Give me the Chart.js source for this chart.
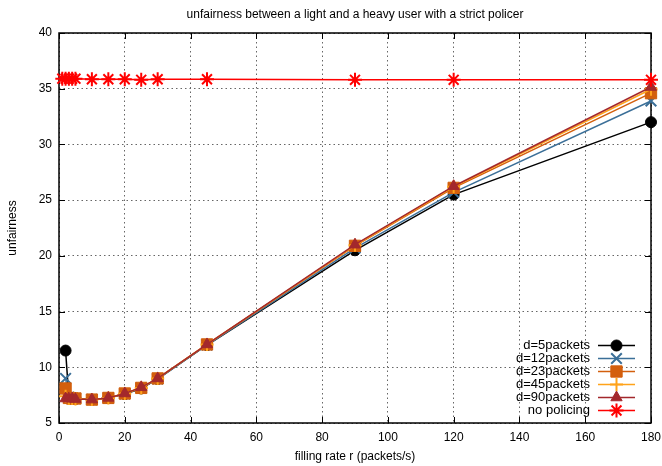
<!DOCTYPE html>
<html>
<head>
<meta charset="utf-8">
<script src="https://cdn.jsdelivr.net/npm/chart.js"></script>
<style>
  body { margin: 0; background: #fff; }
  canvas { display: block; }
</style>
</head>
<body>
<canvas id="chart" width="662" height="466"></canvas>
<script>
// Filling rates (packets/s)
const xPolicer = [2, 3, 4, 5, 10, 15, 20, 25, 30, 45, 90, 120, 180];
const xNoPolicing = [1, 2, 3, 4, 5, 10, 15, 20, 25, 30, 45, 90, 120, 180];

// Unfairness per bucket depth
const d5 = [11.5, 7.3, 7.2, 7.2, 7.1, 7.25, 7.6, 8.1, 8.95, 12.0, 20.5, 25.5, 32.0];
const d12 = [9.0, 7.3, 7.2, 7.2, 7.1, 7.25, 7.6, 8.15, 8.95, 12.0, 20.7, 25.7, 33.9];
const d23 = [8.1, 7.25, 7.2, 7.2, 7.1, 7.25, 7.65, 8.15, 9.0, 12.05, 20.9, 26.1, 34.6];
const d45 = [7.4, 7.2, 7.2, 7.15, 7.1, 7.25, 7.65, 8.15, 9.0, 12.05, 20.95, 26.2, 34.95];
const d90 = [7.2, 7.2, 7.2, 7.15, 7.1, 7.25, 7.65, 8.2, 9.0, 12.05, 21.0, 26.25, 35.15];
const noPolicing = [35.9, 35.9, 35.9, 35.9, 35.9, 35.85, 35.85, 35.85, 35.8, 35.85, 35.85, 35.8, 35.8, 35.8];

const seriesLabels = ['d=5packets', 'd=12packets', 'd=23packets', 'd=45packets', 'd=90packets', 'no policing'];
const xTicks = [0, 20, 40, 60, 80, 100, 120, 140, 160, 180];
const yTicks = [5, 10, 15, 20, 25, 30, 35, 40];

const FONT = "'Liberation Sans', Arial, Helvetica, sans-serif";

function toPoints(xs, ys) {
    return ys.map((y, i) => ({ x: xs[i], y: y }));
}

function makeSet(label, xs, ys, color, style, radius, width, order) {
    const filled = style === 'circle' || style === 'rect' || style === 'triangle';
    return {
        label: label,
        data: toPoints(xs, ys),
        borderColor: color,
        backgroundColor: color,
        borderWidth: 1.5,
        pointStyle: style,
        pointRadius: radius,
        pointBorderWidth: filled ? 1 : width,
        pointBackgroundColor: color,
        pointBorderColor: color,
        clip: false,
        order: order
    };
}

const datasets = [
    makeSet(seriesLabels[0], xPolicer, d5, '#000000', 'circle', 5.5, 1, 5),
    makeSet(seriesLabels[1], xPolicer, d12, '#3b6f98', 'crossRot', 7.5, 2, 4),
    makeSet(seriesLabels[2], xPolicer, d23, '#d35f0d', 'rect', 8, 1, 3),
    makeSet(seriesLabels[3], xPolicer, d45, '#ffa31a', 'cross', 6.5, 2, 2),
    makeSet(seriesLabels[4], xPolicer, d90, '#a3282c', 'triangle', 6.5, 1, 1),
    makeSet(seriesLabels[5], xNoPolicing, noPolicing, '#ff0000', 'star', 7, 2, 0)
];

// Title, frame with inward ticks, and gnuplot-style key
const gnuplotFrame = {
    id: 'gnuplotFrame',
    beforeDatasetsDraw(chart) {
        const { ctx, chartArea: a, scales } = chart;
        ctx.save();
        ctx.strokeStyle = '#000';
        ctx.lineWidth = 1;
        const tl = 6;
        ctx.beginPath();
        xTicks.forEach(v => {
            const px = Math.round(scales.x.getPixelForValue(v)) + 0.5;
            ctx.moveTo(px, a.bottom); ctx.lineTo(px, a.bottom - tl);
            ctx.moveTo(px, a.top); ctx.lineTo(px, a.top + tl);
        });
        yTicks.forEach(v => {
            const py = Math.round(scales.y.getPixelForValue(v)) + 0.5;
            ctx.moveTo(a.left, py); ctx.lineTo(a.left + tl, py);
            ctx.moveTo(a.right, py); ctx.lineTo(a.right - tl, py);
        });
        ctx.stroke();
        ctx.lineWidth = 1.5;
        ctx.strokeRect(a.left, a.top, a.right - a.left, a.bottom - a.top);
        ctx.restore();
    },
    afterDraw(chart) {
        const { ctx, chartArea: a } = chart;
        ctx.save();
        ctx.fillStyle = '#000';
        ctx.font = '12px ' + FONT;
        ctx.textAlign = 'center';
        ctx.textBaseline = 'middle';
        ctx.fillText('unfairness between a light and a heavy user with a strict policer', (a.left + a.right) / 2, 15);

        // key
        const textRight = a.right - 61;
        const lineL = a.right - 53;
        const lineR = a.right - 16;
        const mx = (lineL + lineR) / 2;
        const y0 = 345.5;
        const step = 13;
        ctx.font = '13px ' + FONT;
        ctx.textAlign = 'right';
        chart.data.datasets.forEach((ds, i) => {
            const y = y0 + i * step;
            ctx.fillStyle = '#000';
            ctx.fillText(ds.label, textRight, y);
            ctx.strokeStyle = ds.borderColor;
            ctx.lineWidth = ds.borderWidth;
            ctx.beginPath();
            ctx.moveTo(lineL, y);
            ctx.lineTo(lineR, y);
            ctx.stroke();
            ctx.fillStyle = ds.pointBackgroundColor;
            ctx.strokeStyle = ds.pointBorderColor;
            ctx.lineWidth = ds.pointBorderWidth;
            Chart.helpers.drawPoint(ctx, {
                pointStyle: ds.pointStyle,
                radius: ds.pointRadius,
                rotation: 0,
                borderWidth: ds.pointBorderWidth
            }, mx, y);
        });
        ctx.restore();
    }
};

new Chart(document.getElementById('chart'), {
    type: 'line',
    data: { datasets: datasets },
    plugins: [gnuplotFrame],
    options: {
        responsive: false,
        animation: false,
        layout: { padding: { top: 33, right: 11, left: 0, bottom: 0 } },
        plugins: {
            legend: { display: false },
            tooltip: { enabled: false },
            title: { display: false }
        },
        scales: {
            x: {
                type: 'linear',
                min: 0,
                max: 180,
                afterFit(scale) {
                    scale.height = 43;
                    scale.paddingLeft = 0;
                    scale.paddingRight = 0;
                },
                afterBuildTicks(scale) { scale.ticks = xTicks.map(v => ({ value: v })); },
                ticks: { padding: 7, color: '#000', font: { size: 12, family: FONT } },
                grid: { drawTicks: false, color: '#666', lineWidth: 1 },
                border: { display: false, dash: [1.5, 3] },
                title: {
                    display: true,
                    text: 'filling rate r (packets/s)',
                    color: '#000',
                    font: { size: 12, family: FONT },
                    padding: { top: 0, bottom: 2 }
                }
            },
            y: {
                type: 'linear',
                min: 5,
                max: 40,
                afterFit(scale) {
                    scale.width = 59;
                    scale.paddingTop = 0;
                    scale.paddingBottom = 0;
                },
                afterBuildTicks(scale) { scale.ticks = yTicks.map(v => ({ value: v })); },
                ticks: { padding: 7, color: '#000', font: { size: 12, family: FONT } },
                grid: { drawTicks: false, color: '#666', lineWidth: 1 },
                border: { display: false, dash: [1.5, 3] },
                title: {
                    display: true,
                    text: 'unfairness',
                    color: '#000',
                    font: { size: 12, family: FONT },
                    padding: { top: 5, bottom: 0 }
                }
            }
        }
    }
});
</script>
</body>
</html>
